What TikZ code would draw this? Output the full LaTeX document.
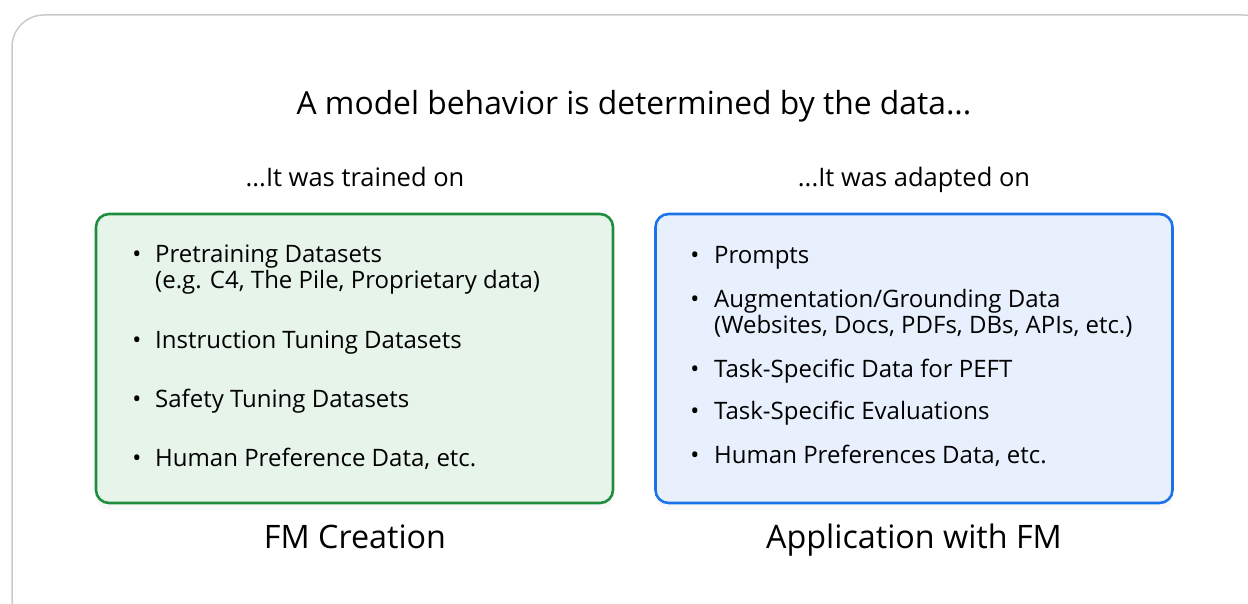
\documentclass[tikz,border=0pt]{standalone}
\usepackage{fontspec}
\setmainfont{Open Sans}
\usetikzlibrary{shadows}

\definecolor{framegray}{HTML}{C8CACD}
\definecolor{fmgreen}{HTML}{1E8E3E}
\definecolor{fmfill}{HTML}{E6F4EA}
\definecolor{appblue}{HTML}{1A73E8}
\definecolor{appfill}{HTML}{E8F0FE}
\definecolor{ink}{HTML}{000000}

\begin{document}
\begin{tikzpicture}[x=1pt, y=-1pt,
    frame/.style={draw=framegray, line width=1.5pt, rounded corners=32pt},
    databox/.style={rounded corners=13pt, line width=2.6pt, minimum width=517pt, minimum height=289pt,
      drop shadow={opacity=0.06, shadow xshift=0pt, shadow yshift=-7pt}},
    heading/.style={font=\fontsize{31.8}{38}\selectfont, text=ink, anchor=base, inner sep=0pt},
    caption/.style={font=\fontsize{32.3}{38}\selectfont, text=ink, anchor=base, inner sep=0pt},
    sublabel/.style={font=\fontsize{25.5}{30}\selectfont, text=ink, anchor=base, inner sep=0pt},
    item/.style={font=\fontsize{24}{28}\selectfont, text=ink, anchor=base west, inner sep=0pt},
    dot/.style={font=\fontsize{24}{28}\selectfont, text=ink, anchor=base, inner sep=0pt}]

  \useasboundingbox (0,0) rectangle (1248,604);

  % Outer card
  \draw[frame] (12,15) rectangle (1275,630);

  % Title and column headings
  \node[heading] (title) at (634,115) {A model behavior is determined by the data...};
  \node[sublabel] (trainedon) at (355,187) {...It was trained on};
  \node[sublabel] (adaptedon) at (914,187) {...It was adapted on};

  % The two data boxes
  \node[databox, draw=fmgreen, fill=fmfill] (fmbox) at (354.5,358.5) {};
  \node[databox, draw=appblue, fill=appfill] (appbox) at (914,358.5) {};

  % Left list
  \node[dot] (fmdot1) at (137,262) {•};
  \node[item] (fmitem1) at (155,262) {Pretraining Datasets};
  \node[item] (fmnote1) at (155,288) {(e.g. C4, The Pile, Proprietary data)};
  \node[dot] (fmdot2) at (137,348) {•};
  \node[item] (fmitem2) at (155,348) {Instruction Tuning Datasets};
  \node[dot] (fmdot3) at (137,407) {•};
  \node[item] (fmitem3) at (155,407) {Safety Tuning Datasets};
  \node[dot] (fmdot4) at (137,466) {•};
  \node[item] (fmitem4) at (155,466) {Human Preference Data, etc.};

  % Right list
  \node[dot] (appdot1) at (695,263) {•};
  \node[item] (appitem1) at (714,263) {Prompts};
  \node[dot] (appdot2) at (695,307) {•};
  \node[item] (appitem2) at (714,307) {Augmentation/Grounding Data};
  \node[item] (appnote2) at (714,333) {(Websites, Docs, PDFs, DBs, APIs, etc.)};
  \node[dot] (appdot3) at (695,377) {•};
  \node[item] (appitem3) at (714,377) {Task-Specific Data for PEFT};
  \node[dot] (appdot4) at (695,419) {•};
  \node[item] (appitem4) at (714,419) {Task-Specific Evaluations};
  \node[dot] (appdot5) at (695,463) {•};
  \node[item] (appitem5) at (714,463) {Human Preferences Data, etc.};

  % Captions under the boxes
  \node[caption] (fmcap) at (355,548) {FM Creation};
  \node[caption] (appcap) at (914,548) {Application with FM};
\end{tikzpicture}
\end{document}
